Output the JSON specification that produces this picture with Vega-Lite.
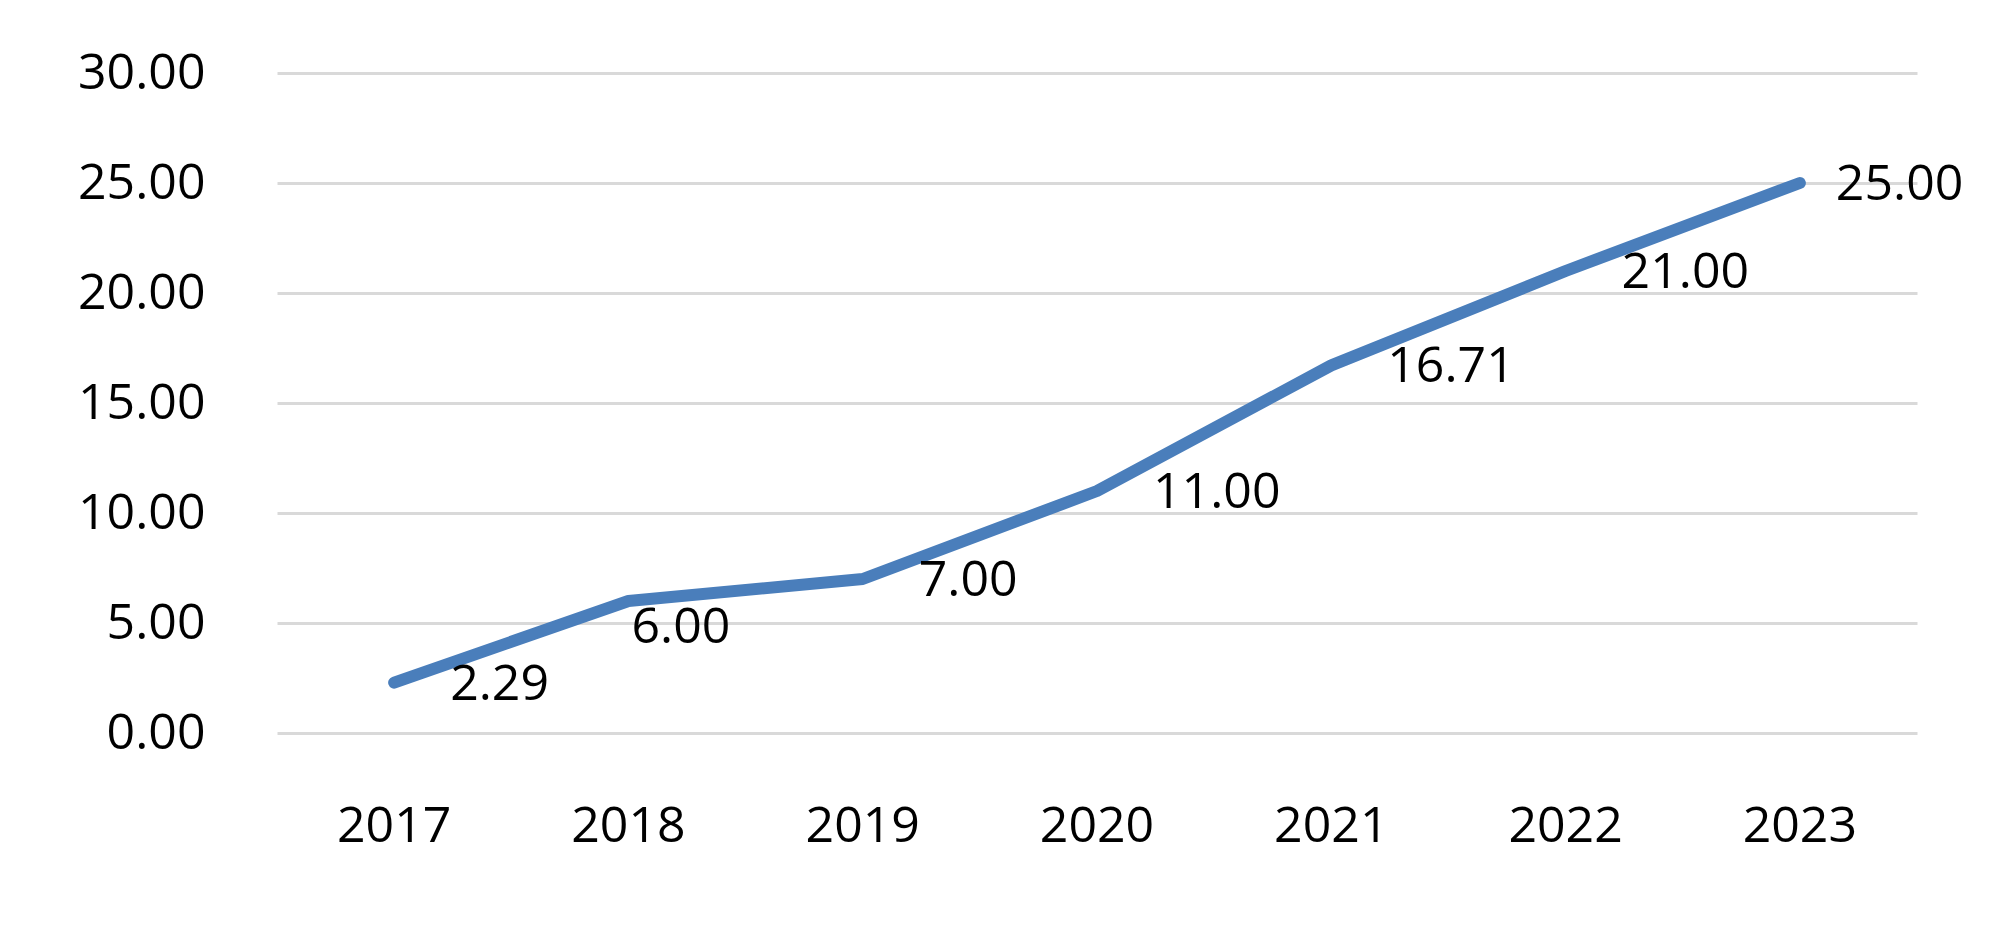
{
  "$schema": "https://vega.github.io/schema/vega-lite/v6.json",
  "width": 1640,
  "height": 660,
  "autosize": {"type": "none"},
  "padding": {"left": 277, "top": 73, "right": 83, "bottom": 207},
  "background": "white",
  "config": {
    "view": {"stroke": null},
    "font": "Open Sans",
    "axis": {"labelFont": "Open Sans", "labelColor": "#000000"}
  },
  "data": {
    "values": [
      {"year": "2017", "value": 2.29},
      {"year": "2018", "value": 6.00},
      {"year": "2019", "value": 7.00},
      {"year": "2020", "value": 11.00},
      {"year": "2021", "value": 16.71},
      {"year": "2022", "value": 21.00},
      {"year": "2023", "value": 25.00}
    ]
  },
  "encoding": {
    "x": {
      "field": "year",
      "type": "ordinal",
      "scale": {"type": "band", "paddingInner": 0, "paddingOuter": 0},
      "axis": {
        "title": null,
        "labelAngle": 0,
        "labelFontSize": 50,
        "labelPadding": 68,
        "ticks": false,
        "domain": false,
        "grid": false
      }
    },
    "y": {
      "field": "value",
      "type": "quantitative",
      "scale": {"domain": [0, 30], "nice": false, "zero": true},
      "axis": {
        "title": null,
        "values": [0, 5, 10, 15, 20, 25, 30],
        "format": ".2f",
        "labelFontSize": 50,
        "labelPadding": 72,
        "ticks": false,
        "domain": false,
        "grid": true,
        "gridColor": "#D9D9D9",
        "gridWidth": 3
      }
    }
  },
  "layer": [
    {
      "mark": {"type": "line", "color": "#4A7EBB", "strokeWidth": 12, "strokeCap": "round", "strokeJoin": "round"}
    },
    {
      "transform": [{"filter": "datum.year != '2018' && datum.year != '2023'"}],
      "mark": {"type": "text", "align": "left", "baseline": "middle", "dx": 56, "dy": 2, "fontSize": 50, "color": "#000000"},
      "encoding": {"text": {"field": "value", "type": "quantitative", "format": ".2f"}}
    },
    {
      "transform": [{"filter": "datum.year == '2018'"}],
      "mark": {"type": "text", "align": "left", "baseline": "middle", "dx": 3, "dy": 27, "fontSize": 50, "color": "#000000"},
      "encoding": {"text": {"field": "value", "type": "quantitative", "format": ".2f"}}
    },
    {
      "transform": [{"filter": "datum.year == '2023'"}],
      "mark": {"type": "text", "align": "left", "baseline": "middle", "dx": 36, "dy": 2, "fontSize": 50, "color": "#000000"},
      "encoding": {"text": {"field": "value", "type": "quantitative", "format": ".2f"}}
    }
  ]
}
